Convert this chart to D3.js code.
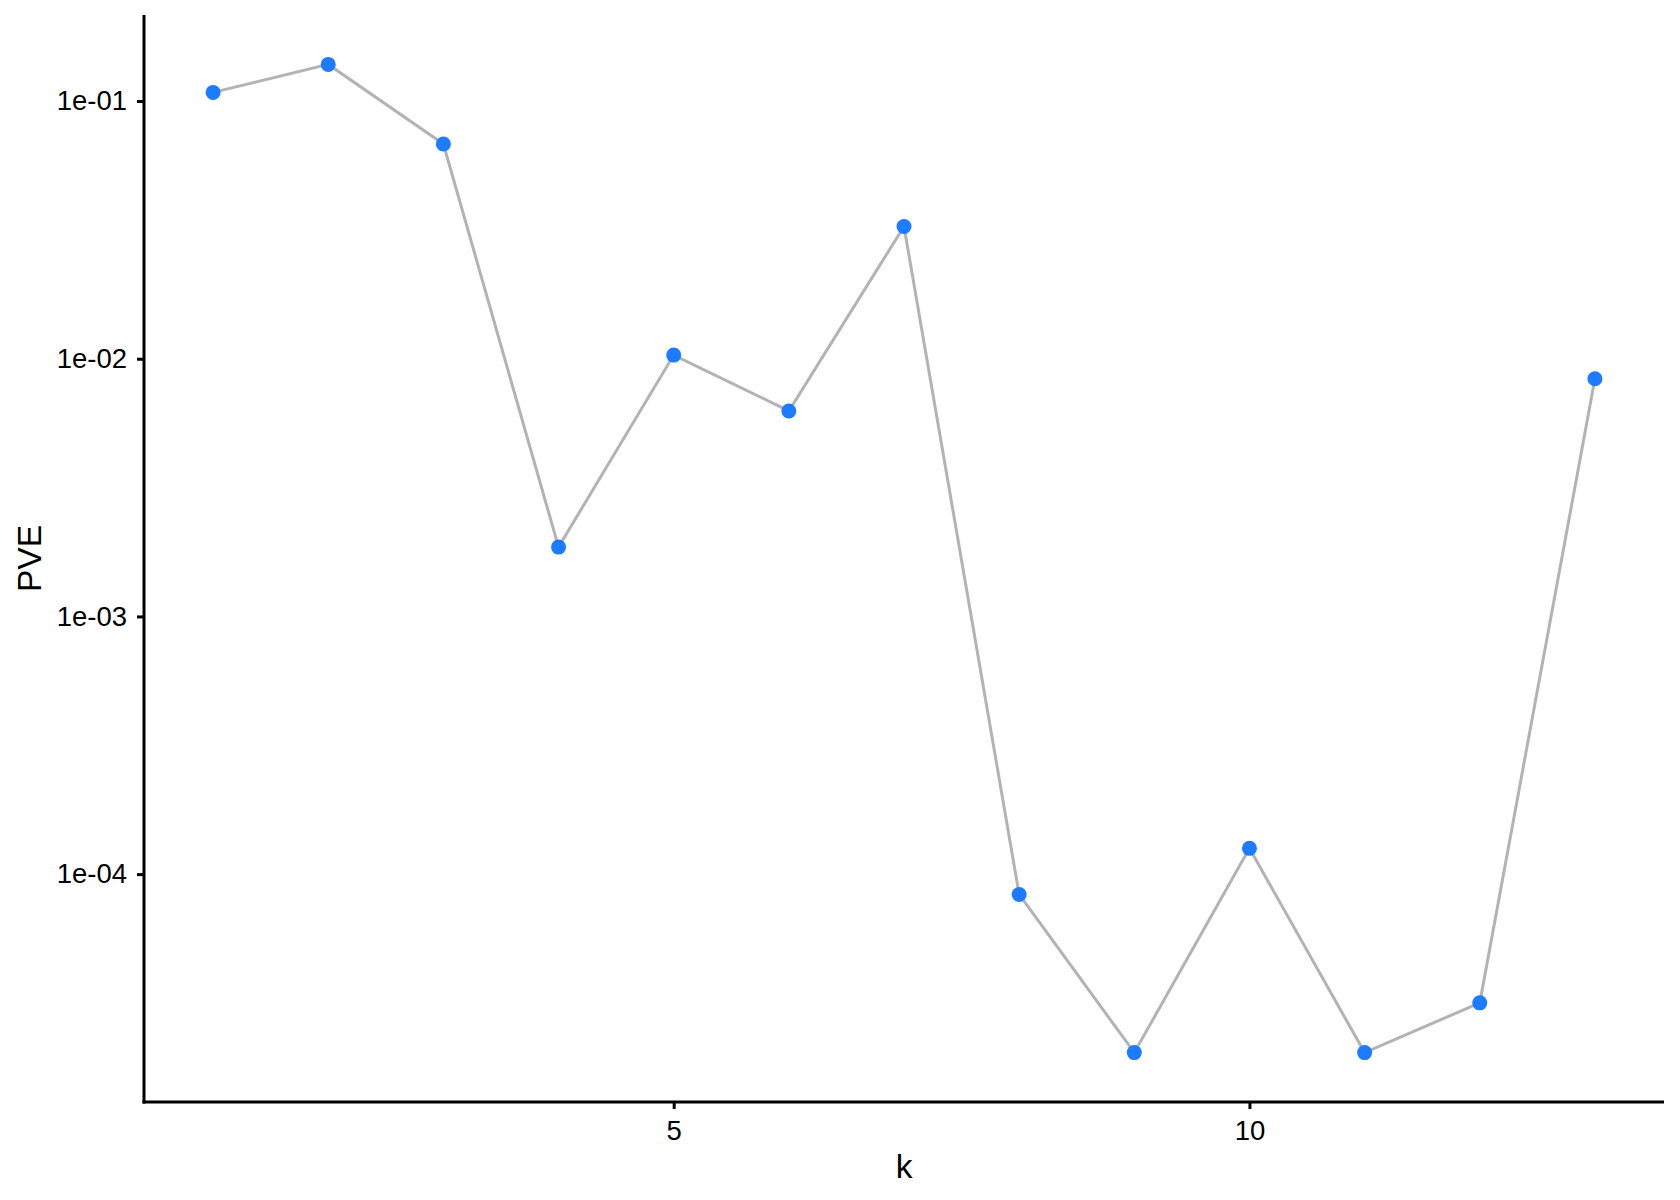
<!DOCTYPE html>
<html>
<head>
<meta charset="utf-8">
<script src="https://cdn.jsdelivr.net/npm/d3@7"></script>
<style>
  body { margin: 0; background: #fff; }
  text { font-family: "Liberation Sans", Arial, sans-serif; }
</style>
</head>
<body>
<div id="chart"></div>
<script>
// data
var kValues = [1, 2, 3, 4, 5, 6, 7, 8, 9, 10, 11, 12, 13];
var pveValues = [0.1080, 0.1387, 0.0681, 0.001858, 0.01033, 0.00627, 0.0326,
                 8.34e-5, 2.03e-5, 1.259e-4, 2.03e-5, 3.166e-5, 0.00836];
var xTicks = [5, 10];
var yTicks = [1e-1, 1e-2, 1e-3, 1e-4];
var yTickLabels = ["1e-01", "1e-02", "1e-03", "1e-04"];

var W = 1680, H = 1200;
var margin = {top: 15, right: 16, bottom: 98, left: 144},
    width = W - margin.left - margin.right,
    height = H - margin.top - margin.bottom;

var data = kValues.map(function(k, i) { return {k: k, v: pveValues[i]}; });

// ggplot style 5% expansion
var kExt = d3.extent(kValues), kPad = (kExt[1] - kExt[0]) * 0.05;
var lExt = d3.extent(pveValues, function(v) { return Math.log10(v); }),
    lPad = (lExt[1] - lExt[0]) * 0.05;

var x = d3.scaleLinear().domain([kExt[0] - kPad, kExt[1] + kPad]).range([0, width]);
var y = d3.scaleLog().domain([Math.pow(10, lExt[0] - lPad), Math.pow(10, lExt[1] + lPad)]).range([height, 0]);

var svg = d3.select("#chart").append("svg")
    .attr("width", W)
    .attr("height", H);

var g = svg.append("g")
    .attr("transform", "translate(" + margin.left + "," + margin.top + ")");

var line = d3.line()
    .x(function(d) { return x(d.k); })
    .y(function(d) { return y(d.v); });

g.append("path")
    .datum(data)
    .attr("d", line)
    .attr("fill", "none")
    .attr("stroke", "#b3b3b3")
    .attr("stroke-width", 3);

g.selectAll("circle.pt")
    .data(data)
  .enter().append("circle")
    .attr("class", "pt")
    .attr("cx", function(d) { return x(d.k); })
    .attr("cy", function(d) { return y(d.v); })
    .attr("r", 7.5)
    .attr("fill", "#1c7bff");

var xAxis = d3.axisBottom(x).tickValues(xTicks).tickFormat(d3.format("d"))
    .tickSize(7).tickPadding(11).tickSizeOuter(0);
var yAxis = d3.axisLeft(y).tickValues(yTicks)
    .tickFormat(function(d, i) { return yTickLabels[i]; })
    .tickSize(7).tickPadding(10).tickSizeOuter(0);

var gx = g.append("g")
    .attr("transform", "translate(0," + height + ")")
    .call(xAxis);
var gy = g.append("g").call(yAxis);

[gx, gy].forEach(function(a) {
  a.select(".domain").attr("stroke", "#000").attr("stroke-width", 3);
  a.selectAll(".tick line").attr("stroke", "#000").attr("stroke-width", 3);
  a.selectAll(".tick text").attr("fill", "#000").style("font-size", "27.5px")
    .style("font-family", "'Liberation Sans', Arial, sans-serif");
});
// close the corner where the axes meet
gy.select(".domain").attr("d", "M0," + (height + 1.5) + "V0");
gx.select(".domain").attr("d", "M-1.5,0H" + width);

svg.append("text")
    .attr("x", margin.left + width / 2)
    .attr("y", 1178)
    .attr("text-anchor", "middle")
    .style("font-size", "33.5px")
    .text("k");

svg.append("text")
    .attr("transform", "translate(41," + (margin.top + height / 2) + ") rotate(-90)")
    .attr("text-anchor", "middle")
    .style("font-size", "33.5px")
    .text("PVE");
</script>
</body>
</html>
